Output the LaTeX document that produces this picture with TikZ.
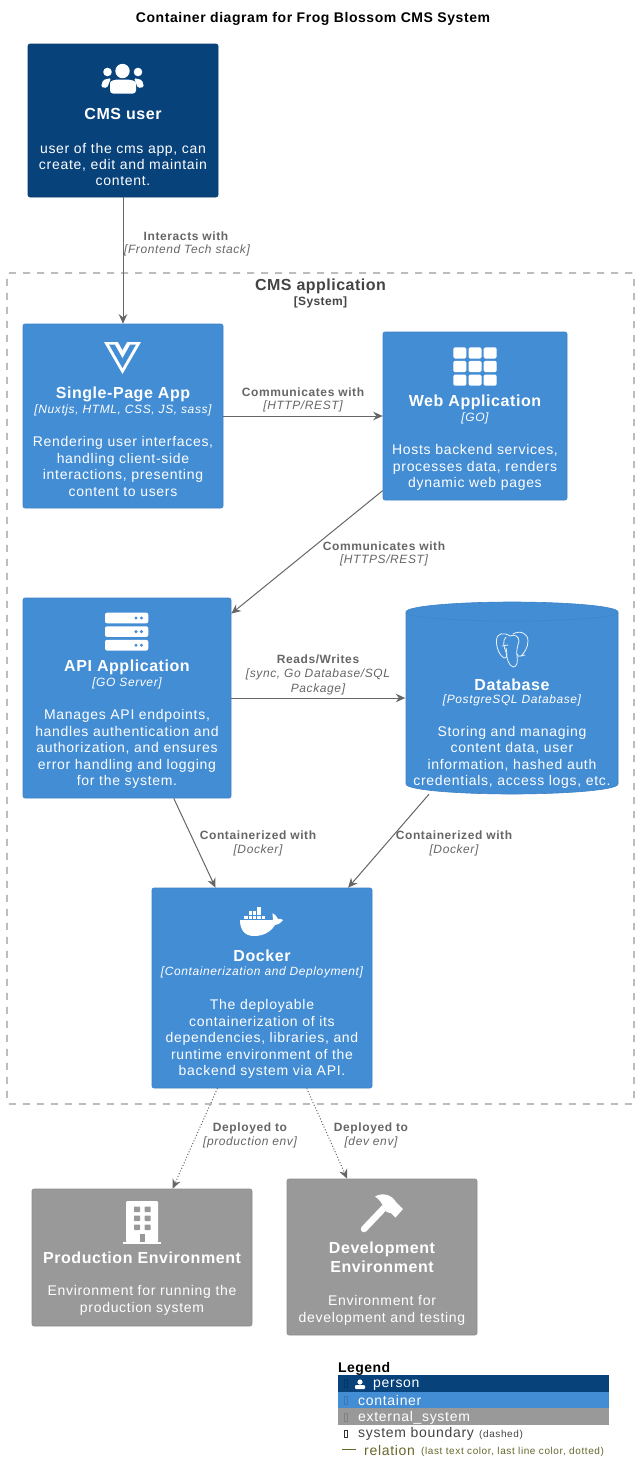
\documentclass[tikz,border=0pt]{standalone}
\usepackage{fontspec}
\setmainfont{Liberation Sans}
\newfontfamily\bodyf{Liberation Sans}[LetterSpace=5]
\newfontfamily\headf{Liberation Sans}[LetterSpace=3.5]
\newfontfamily\bodyg{Liberation Sans}[LetterSpace=3]
\newfontfamily\titlef{Liberation Sans}[LetterSpace=4]
\newfontfamily\smallf{Liberation Sans}[LetterSpace=6]
\usetikzlibrary{arrows.meta}
\definecolor{persF}{HTML}{08427B}
\definecolor{contF}{HTML}{438DD5}
\definecolor{extF}{HTML}{999999}
\definecolor{lineC}{HTML}{666666}
\definecolor{boundC}{HTML}{444444}
\definecolor{olive}{HTML}{66662B}
\tikzset{
 x=1pt,y=-1pt,
 boxbase/.style={rectangle,rounded corners=2pt,inner sep=0,minimum width=#1},
 pers/.style={boxbase=#1,fill=persF,draw=persF!90!black,line width=.6pt},
 cont/.style={boxbase=#1,fill=contF,draw=contF!92!black,line width=.6pt},
 ext/.style={boxbase=#1,fill=extF,draw=extF!92!black,line width=.6pt},
 ghost/.style={rectangle,inner sep=0,minimum width=213pt,minimum height=192pt},
 ttl/.style={text=white,inner sep=0,align=center,yshift=-1pt,font=\headf\bfseries\fontsize{16}{19}\selectfont},
 tech/.style={text=white,inner sep=0,yshift=-1pt,font=\bodyf\itshape\fontsize{12}{14}\selectfont},
 desc/.style={text=white,inner sep=0,align=center,yshift=-1.5pt,font=\bodyf\fontsize{14}{16.4}\selectfont},
 lblb/.style={text=lineC,inner sep=0,font=\bodyf\bfseries\fontsize{12}{14}\selectfont},
 lbli/.style={text=lineC,inner sep=0,align=center,yshift=-.7pt,font=\bodyf\itshape\fontsize{12}{14.4}\selectfont},
 rel/.style={draw=lineC,line width=1pt,-{Stealth[length=9.5pt,width=8.5pt]}},
 reld/.style={rel,dotted},
 leg/.style={inner sep=0,anchor=west,font=\bodyf\fontsize{14}{16}\selectfont},
 legs/.style={inner sep=0,anchor=west,font=\smallf\fontsize{10}{12}\selectfont},
 ico/.style={fill=white,draw=none},
}
\begin{document}
\begin{tikzpicture}
\useasboundingbox (0,0) rectangle (640,1484);
\fill[white] (0,0) rectangle (640,1484);

\node[inner sep=0,font=\titlef\bfseries\fontsize{14}{16}\selectfont] (title) at (313,19) {Container diagram for Frog Blossom CMS System};

% boundary
\node[rectangle,draw=boundC,dashed,dash pattern=on 7pt off 7pt,line width=.7pt,rounded corners=2pt,inner sep=0,minimum width=627pt,minimum height=831pt] (bound) at (320.5,688.5) {};
\node[inner sep=0,text=boundC,font=\bodyg\bfseries\fontsize{16}{19}\selectfont] (boundt) at (320.5,286.5) {CMS application};
\node[inner sep=0,text=boundC,font=\bodyg\bfseries\fontsize{12}{14}\selectfont] (bounds) at (320.5,302) {[System]};

% boxes
\node[pers=190pt,minimum height=153pt] (user) at (123,120.5) {};
\node[cont=200pt,minimum height=184pt] (spa) at (123,416) {};
\node[cont=184pt,minimum height=168pt] (web) at (475,416) {};
\node[cont=208pt,minimum height=200pt] (api) at (127,698) {};
\node[cont=220pt,minimum height=200pt] (docker) at (262,988) {};
\node[ext=220pt,minimum height=137pt] (prod) at (142,1257.5) {};
\node[ext=190pt,minimum height=156pt] (dev) at (382,1257) {};

% database cylinder
\path[fill=contF,draw=contF!92!black,line width=.6pt] (406,612) .. controls (406,606) and (459,602) .. (512,602) .. controls (565,602) and (618,606) .. (618,612) -- (618,784) .. controls (618,790) and (565,794) .. (512,794) .. controls (459,794) and (406,790) .. (406,784) -- cycle;
\draw[contF!94!black,line width=.6pt] (406,612) .. controls (406,618) and (459,621) .. (512,621) .. controls (565,621) and (618,618) .. (618,612);
\node[ghost] (db) at (512,698) {};

% texts
\node[ttl] (usert) at (123,113) {CMS user};
\node[desc] (userd) at (123,163) {user of the cms app, can\\create, edit and maintain\\content.};

\node[ttl] (spat) at (123,393) {Single-Page App};
\node[tech] (spac) at (123,409) {[Nuxtjs, HTML, CSS, JS, sass]};
\node[desc] (spad) at (123,465) {Rendering user interfaces,\\handling client-side\\interactions, presenting\\content to users};

\node[ttl] (webt) at (475,401) {Web Application};
\node[tech] (webc) at (475,417) {[GO]};
\node[desc] (webd) at (475,466) {Hosts backend services,\\processes data, renders\\dynamic web pages};

\node[ttl] (apit) at (127,666) {API Application};
\node[tech] (apic) at (127,682) {[GO Server]};
\node[desc] (apid) at (127,747.5) {Manages API endpoints,\\handles authentication and\\authorization, and ensures\\error handling and logging\\for the system.};

\node[ttl] (dbt) at (512,684) {Database};
\node[tech] (dbc) at (512,699) {[PostgreSQL Database]};
\node[desc] (dbd) at (512,756) {Storing and managing\\content data, user\\information, hashed auth\\credentials, access logs, etc.};

\node[ttl] (dockt) at (262,955) {Docker};
\node[tech] (dockc) at (262,971) {[Containerization and Deployment]};
\node[desc] (dockd) at (262,1037.5) {The deployable\\containerization of its\\dependencies, libraries, and\\runtime environment of the\\backend system via API.};

\node[ttl] (prodt) at (142,1257) {Production Environment};
\node[desc] (prodd) at (142,1299) {Environment for running the\\production system};

\node[ttl] (devt) at (382,1256.5) {Development\\Environment};
\node[desc] (devd) at (382,1309) {Environment for\\development and testing};

% connectors
\draw[rel] (user) -- (spa);
\draw[rel] (spa) -- (web);
\draw[rel] (web) -- (api);
\draw[rel] (api) -- (db);
\draw[rel] (api) -- (docker);
\draw[rel] (db) -- (docker);
\draw[reld] (docker) -- (prod);
\draw[reld] (docker) -- (dev);

% labels
\node[lblb] (l1a) at (186,236) {Interacts with};
\node[lbli] (l1b) at (187,250) {[Frontend Tech stack]};
\node[lblb] (l2a) at (303,392) {Communicates with};
\node[lbli] (l2b) at (303,406) {[HTTP/REST]};
\node[lblb] (l3a) at (384,546) {Communicates with};
\node[lbli] (l3b) at (384,560) {[HTTPS/REST]};
\node[lblb] (l4a) at (318,659) {Reads/Writes};
\node[lbli] (l4b) at (318,681) {[sync, Go Database/SQL\\Package]};
\node[lblb] (l5a) at (258,835) {Containerized with};
\node[lbli] (l5b) at (258,850) {[Docker]};
\node[lblb] (l6a) at (454,835) {Containerized with};
\node[lbli] (l6b) at (454,850) {[Docker]};
\node[lblb] (l7a) at (250,1128) {Deployed to};
\node[lbli] (l7b) at (250,1142) {[production env]};
\node[lblb] (l8a) at (371,1128) {Deployed to};
\node[lbli] (l8b) at (371,1142) {[dev env]};

% icon: users
\fill[ico] (122.5,71) circle (7.2);
\fill[ico] (107.5,72) circle (4.3);
\fill[ico] (138,72) circle (4.3);
\fill[ico,rounded corners=3pt] (110,93.5) -- (110,86) .. controls (110,81) and (114,79.5) .. (122.5,79.5) .. controls (131,79.5) and (136,81) .. (136,86) -- (136,93.5) -- cycle;
\fill[ico,rounded corners=1.5pt] (101,87) -- (103,80) -- (111,78) -- (107,88) -- cycle;
\fill[ico,rounded corners=1.5pt] (144,87) -- (142,80) -- (134,78) -- (138,88) -- cycle;

% icon: vue
\fill[ico] (104,342) -- (141,342) -- (122.5,374) -- cycle;
\fill[contF] (109,344.5) -- (136,344.5) -- (122.5,368) -- cycle;
\fill[ico] (113.5,342) -- (131.5,342) -- (122.5,358) -- cycle;
\fill[contF] (118,342) -- (127,342) -- (122.5,350) -- cycle;

% icon: grid
\foreach \ix in {0,1,2} \foreach \iy in {0,1,2}
  \fill[ico,rounded corners=1.5pt] ({453.3+\ix*15.2},{347.3+\iy*13.6}) rectangle ++(13,11.2);

% icon: server
\foreach \iy in {0,1,2} {
  \fill[ico,rounded corners=2pt] (105,{612.7+\iy*13.6}) rectangle ++(43.3,10.6);
  \fill[contF] (136,{618+\iy*13.6}) circle (1.7);
  \fill[contF] (141.5,{618+\iy*13.6}) circle (1.7);
}

% icon: elephant
\begin{scope}[draw=white!90!contF,line width=.8pt,line cap=round,line join=round]
\draw (510,636) .. controls (504,632) and (497,633) .. (496.5,640) .. controls (496,648) and (500,656) .. (504,658) .. controls (508,659) and (507,652) .. (506,648);
\draw (506,637) .. controls (502,640) and (504,648) .. (506,652) .. controls (507,658) and (508,665) .. (513,667) .. controls (517,667) and (518,662) .. (517,656) .. controls (516,650) and (518,645) .. (519,641) .. controls (519,636) and (514,634) .. (510,636);
\draw (513,634) .. controls (520,630) and (528,633) .. (528,641) .. controls (528,648) and (524,653) .. (521,656) .. controls (519,657) and (517,656) .. (517,654);
\draw (521,656) -- (525,655);
\draw (502,646) -- (508,645);
\end{scope}

% icon: docker
\fill[ico] (240,920) -- (273,920) .. controls (273,916) and (272,915) .. (272.5,913) .. controls (275,914) and (277,917) .. (278,919) .. controls (280,918.5) and (282,919) .. (283,920) .. controls (280,924) and (277,925) .. (275,925) .. controls (270,933) and (262,936) .. (254,936) .. controls (244,936) and (240,929) .. (240,920) -- cycle;
\foreach \ix/\iy in {0/2,1/2,2/2,3/2,4/2,1/1,2/1,3/1,3/0}
  \fill[ico] ({244.3+\ix*4.3},{907+\iy*4.3}) rectangle ++(3.5,3.5);

% icon: building
\fill[ico,rounded corners=1pt] (126,1201) rectangle (158,1242);
\fill[ico] (123,1241.5) rectangle (161,1244);
\foreach \ix in {0,1} \foreach \iy in {0,1,2}
  \fill[extF,rounded corners=.7pt] ({134+\ix*10.7},{1206.5+\iy*9}) rectangle ++(6,5.5);
\fill[extF] (139.5,1233.5) rectangle (145,1241.5);

% icon: hammer
\draw[white,line width=6.5pt,line cap=round] (364,1229) -- (384,1208);
\fill[ico] (375,1196.5) .. controls (383,1192) and (392,1195) .. (396,1202) -- (399,1205) -- (403,1209) -- (395.5,1217.5) -- (391,1213) .. controls (387,1213) and (385,1211) .. (384,1208) .. controls (382,1203) and (379,1199) .. (375,1196.5) -- cycle;

% legend
\node[inner sep=0,anchor=west,font=\bodyg\bfseries\fontsize{14}{16}\selectfont] (legt) at (338,1368.5) {Legend};
\node[rectangle,fill=persF,inner sep=0,minimum width=271pt,minimum height=16.5pt] (leg1) at (473.5,1383.5) {};
\node[rectangle,fill=contF,inner sep=0,minimum width=271pt,minimum height=16.5pt] (leg2) at (473.5,1400) {};
\node[rectangle,fill=extF,inner sep=0,minimum width=271pt,minimum height=16.5pt] (leg3) at (473.5,1416.5) {};
\draw[persF!80!black,line width=.4pt] (344.5,1379.5) rectangle (347,1387.5);
\draw[contF!85!black,line width=.4pt] (344.5,1396.5) rectangle (347,1404.5);
\draw[extF!85!black,line width=.4pt] (344.5,1413) rectangle (347,1421);
\draw[black!80,line width=.5pt] (344.5,1430.5) rectangle (347,1437.5);
\fill[white] (360,1382) circle (2.6);
\fill[white,rounded corners=1pt] (355,1389) rectangle (365,1385);
\node[leg,text=white] (lg1) at (373,1385) {person};
\node[leg,text=white] (lg2) at (358,1400.5) {container};
\node[leg,text=white] (lg3) at (358,1418) {external\_system};
\node[leg,text=boundC] (lg4) at (358,1434) {system boundary};
\node[legs,text=boundC] (lg4b) at (479,1435) {(dashed)};
\draw[olive,line width=.8pt] (342,1449) -- (356,1449);
\node[leg,text=olive] (lg5) at (364,1450) {relation};
\node[legs,text=olive] (lg5b) at (421,1452) {(last text color, last line color, dotted)};
\end{tikzpicture}
\end{document}
